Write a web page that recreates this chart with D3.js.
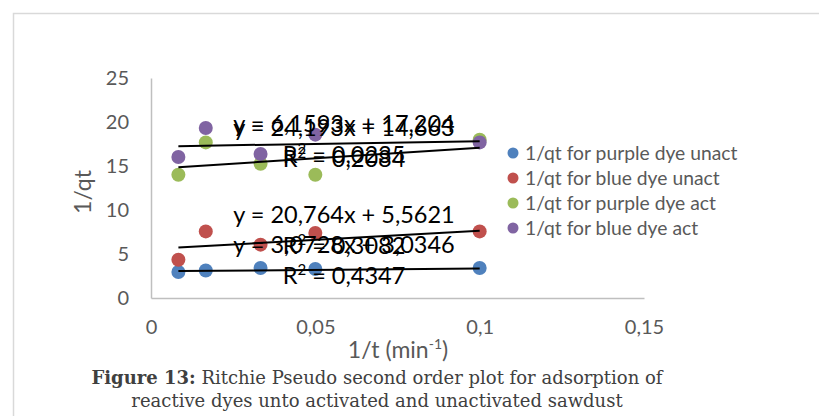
<!DOCTYPE html>
<html>
<head>
<meta charset="utf-8">
<script src="https://cdn.jsdelivr.net/npm/d3@7/dist/d3.min.js"></script>
<style>
  html, body { margin: 0; padding: 0; background: #fff; }
  svg { display: block; }
</style>
</head>
<body>
<svg id="chart" width="819" height="416"></svg>
<script>
// 1/t values (min^-1) for contact times 120, 60, 30, 20, 10 min
const xValues = [1/120, 1/60, 1/30, 1/20, 1/10];

const seriesNames = [
  "1/qt for purple dye unact",
  "1/qt for blue dye unact",
  "1/qt for purple dye act",
  "1/qt for blue dye act"
];
const seriesColors = ["#4F81BD", "#C0504D", "#9BBB59", "#8064A2"];

// 1/qt measurements
const purpleUnact = [2.95, 3.13, 3.41, 3.30, 3.41];
const blueUnact   = [4.34, 7.57, 6.06, 7.39, 7.57];
const purpleAct   = [14.0, 17.68, 15.26, 14.0, 17.99];
const blueAct     = [16.02, 19.32, 16.36, 18.56, 17.68];

// Linear trendlines: slope, intercept, R²
const slopes     = [3.0728, 20.764, 24.193, 6.1593];
const intercepts = [3.0346, 5.5621, 14.663, 17.204];
const rSquared   = ["0,4347", "0,3082", "0,2084", "0,0235"];
const eqTexts = [
  "y = 3,0728x + 3,0346",
  "y = 20,764x + 5,5621",
  "y = 24,193x + 14,663",
  "y = 6,1593x + 17,204"
];
// baselines of the trendline labels (equation line)
const labelBaselines = [253, 223, 136, 132];

const yTicks = [0, 5, 10, 15, 20, 25];
const xTicks = [0, 0.05, 0.1, 0.15];

const seriesValues = [purpleUnact, blueUnact, purpleAct, blueAct];

const svg = d3.select("#chart");
const sans = "Lato, 'Open Sans', sans-serif";
const serif = "'DejaVu Serif', 'Liberation Serif', serif";
const fmt = d => String(d).replace(".", ",");

// chart frame
svg.append("path")
  .attr("d", "M13.5,420 V13.5 H830")
  .attr("fill", "none")
  .attr("stroke", "#D9D9D9")
  .attr("stroke-width", 1.5);

const x = d3.scaleLinear().domain([0, 0.15]).range([151, 644]);
const y = d3.scaleLinear().domain([0, 25]).range([298, 78]);

// axes
const yAxis = svg.append("g")
  .attr("transform", `translate(${x(0)},0)`)
  .call(d3.axisLeft(y).tickValues(yTicks).tickFormat(fmt).tickSize(0).tickPadding(22));
const xAxis = svg.append("g")
  .attr("transform", `translate(0,${y(0)})`)
  .call(d3.axisBottom(x).tickValues(xTicks).tickFormat(fmt).tickSize(0).tickPadding(22));
[yAxis, xAxis].forEach(g => {
  g.select(".domain").attr("stroke", "#BFBFBF").attr("stroke-width", 1.5);
  g.selectAll("text").attr("font-family", sans).attr("font-size", 20).attr("fill", "#595959");
});

// axis titles
svg.append("text")
  .attr("transform", "translate(91,192) rotate(-90)")
  .attr("text-anchor", "middle")
  .attr("font-family", sans).attr("font-size", 23).attr("fill", "#595959")
  .text("1/qt");
const xt = svg.append("text")
  .attr("x", 398).attr("y", 358)
  .attr("text-anchor", "middle")
  .attr("font-family", sans).attr("font-size", 23).attr("fill", "#595959");
xt.append("tspan").text("1/t (min");
xt.append("tspan").attr("font-size", 14).attr("dy", -9).text("-1");
xt.append("tspan").attr("dy", 9).text(")");

// data points
seriesValues.forEach((vals, i) => {
  svg.append("g").selectAll("circle")
    .data(vals)
    .join("circle")
    .attr("cx", (d, j) => x(xValues[j]))
    .attr("cy", d => y(d))
    .attr("r", 7)
    .attr("fill", seriesColors[i]);
});

// trendlines over the data range
const xMin = d3.min(xValues), xMax = d3.max(xValues);
seriesValues.forEach((vals, i) => {
  svg.append("line")
    .attr("x1", x(xMin)).attr("y1", y(slopes[i] * xMin + intercepts[i]))
    .attr("x2", x(xMax)).attr("y2", y(slopes[i] * xMax + intercepts[i]))
    .attr("stroke", "#000").attr("stroke-width", 2);
});

// trendline labels
seriesValues.forEach((vals, i) => {
  const g = svg.append("g")
    .attr("font-family", sans).attr("font-size", 23.5).attr("fill", "#000")
    .attr("text-anchor", "middle");
  g.append("text").attr("x", 344).attr("y", labelBaselines[i]).text(eqTexts[i]);
  const r = g.append("text").attr("x", 344).attr("y", labelBaselines[i] + 31);
  r.append("tspan").text("R");
  r.append("tspan").attr("font-size", 15).attr("dy", -9).text("2");
  r.append("tspan").attr("dy", 9).text(" = " + rSquared[i]);
});

// legend
const legend = svg.append("g");
seriesNames.forEach((name, i) => {
  const ly = 153 + i * 25;
  legend.append("circle").attr("cx", 513).attr("cy", ly).attr("r", 5.5).attr("fill", seriesColors[i]);
  legend.append("text").attr("x", 525).attr("y", ly + 6.5)
    .attr("font-family", sans).attr("font-size", 19.3).attr("fill", "#595959")
    .text(name);
});

// caption
const cap1 = svg.append("text")
  .attr("x", 377).attr("y", 384).attr("text-anchor", "middle")
  .attr("font-family", serif).attr("font-size", 18).attr("fill", "#404040");
cap1.append("tspan").attr("font-weight", "bold").text("Figure 13:");
cap1.append("tspan").text(" Ritchie Pseudo second order plot for adsorption of");
svg.append("text")
  .attr("x", 377).attr("y", 407).attr("text-anchor", "middle")
  .attr("font-family", serif).attr("font-size", 18).attr("fill", "#404040")
  .text("reactive dyes unto activated and unactivated sawdust");
</script>
</body>
</html>
